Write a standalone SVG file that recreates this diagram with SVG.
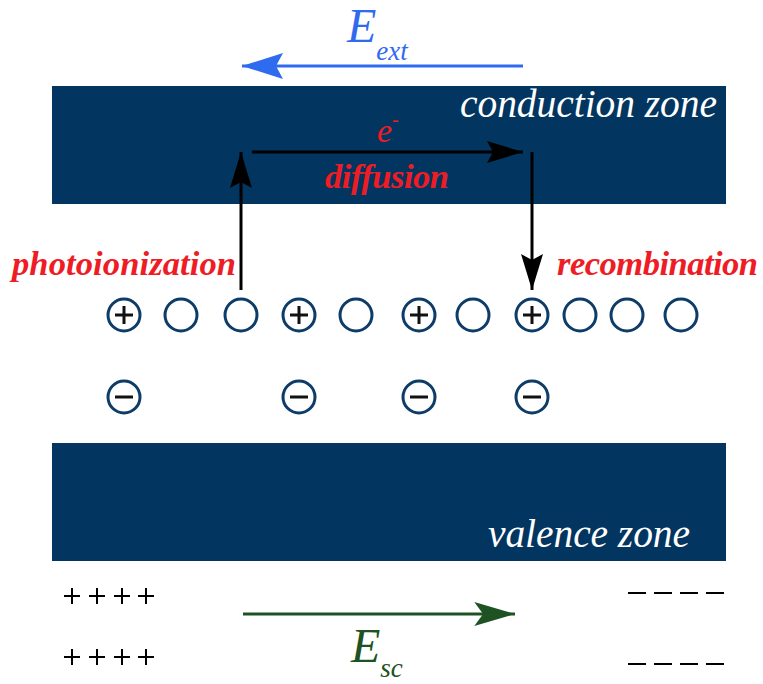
<svg xmlns="http://www.w3.org/2000/svg" width="763" height="684" viewBox="0 0 763 684">
<style>
.band{fill:#02355f}
.zt{font-family:"Liberation Serif",serif;font-style:italic;fill:#fff;font-size:39.5px}
.rt{font-family:"Liberation Serif",serif;font-style:italic;font-weight:bold;fill:#ee1c25;font-size:34.5px}
.c{fill:none;stroke:#0e3c68;stroke-width:3}
.s{stroke:#111;stroke-width:3;fill:none}
.k{stroke:#000;stroke-width:3;fill:none}
.pm{stroke:#000;stroke-width:2}
</style>
<defs>
<marker id="ab" markerUnits="userSpaceOnUse" markerWidth="40" markerHeight="30" refX="36" refY="12" orient="auto" viewBox="0 0 40 24">
<path d="M36,12 L0,1 L6,12 L0,23 Z" fill="#000"/>
</marker>
<marker id="abl" markerUnits="userSpaceOnUse" markerWidth="44" markerHeight="30" refX="41" refY="13" orient="auto" viewBox="0 0 44 26">
<path d="M41,13 L0,0 L7,13 L0,26 Z" fill="#2f6bef"/>
</marker>
<marker id="agr" markerUnits="userSpaceOnUse" markerWidth="44" markerHeight="30" refX="37" refY="11" orient="auto" viewBox="0 0 40 22">
<path d="M37,11 L0,0 L8,11 L0,22 Z" fill="#1e5222"/>
</marker>
</defs>
<g id="conduction-zone">
<rect class="band" x="52" y="86" width="674" height="118"/>
<text class="zt" x="460" y="117" textLength="257">conduction zone</text>
</g>
<g id="valence-zone">
<rect class="band" x="52" y="443" width="674" height="118"/>
<text class="zt" x="488" y="547" textLength="202">valence zone</text>
</g>
<g id="e-ext">
<text x="347" y="42" font-family="Liberation Serif,serif" font-style="italic" font-size="48" fill="#2f6bef">E<tspan font-size="27" dy="18">ext</tspan></text>
</g>
<g id="e-sc">
<text x="351" y="662" font-family="Liberation Serif,serif" font-style="italic" font-size="48" fill="#1e5222">E<tspan font-size="27" dy="15">sc</tspan></text>
</g>
<g id="electron">
<text x="377" y="142" font-family="Liberation Serif,serif" font-style="italic" font-size="34" fill="#ee1c25">e<tspan font-size="20" dy="-16">-</tspan></text>
</g>
<g id="labels">
<text class="rt" x="325" y="188" textLength="124">diffusion</text>
<text class="rt" x="12" y="275" textLength="224">photoionization</text>
<text class="rt" x="557" y="275" textLength="201">recombination</text>
</g>
<g id="atoms">
<circle class="c" cx="124" cy="315" r="16"/>
<circle class="c" cx="181" cy="315" r="16"/>
<circle class="c" cx="241" cy="315" r="16"/>
<circle class="c" cx="299" cy="315" r="16"/>
<circle class="c" cx="356" cy="315" r="16"/>
<circle class="c" cx="419" cy="315" r="16"/>
<circle class="c" cx="473" cy="315" r="16"/>
<circle class="c" cx="532" cy="315" r="16"/>
<circle class="c" cx="580" cy="315" r="16"/>
<circle class="c" cx="627" cy="315" r="16"/>
<circle class="c" cx="681" cy="315" r="16"/>
<path class="s" d="M115,315h18M124,306v18M290,315h18M299,306v18M410,315h18M419,306v18M523,315h18M532,306v18"/>
<circle class="c" cx="124" cy="397" r="16"/>
<circle class="c" cx="299" cy="397" r="16"/>
<circle class="c" cx="419" cy="397" r="16"/>
<circle class="c" cx="532" cy="397" r="16"/>
<path class="s" d="M115,397h18M290,397h18M410,397h18M523,397h18"/>
</g>
<g id="charges">
<path class="pm" d="M64,596h16M72,588v16M89,596h16M97,588v16M114,596h16M122,588v16M138,596h16M146,588v16"/>
<path class="pm" d="M64,657h16M72,649v16M89,657h16M97,649v16M114,657h16M122,649v16M138,657h16M146,649v16"/>
<path class="pm" stroke-width="2.5" d="M628,593h18M654,593h18M680,593h18M706,593h18M628,664h18M654,664h18M680,664h18M706,664h18"/>
</g>
<g id="connectors">
<line class="k" x1="241" y1="290" x2="241" y2="152" marker-end="url(#ab)"/>
<line class="k" x1="252" y1="152" x2="523" y2="152" marker-end="url(#ab)"/>
<line class="k" x1="532" y1="152" x2="532" y2="290" marker-end="url(#ab)"/>
<line stroke="#2f6bef" stroke-width="3" x1="523" y1="66" x2="242" y2="66" marker-end="url(#abl)"/>
<line stroke="#1e5222" stroke-width="3" x1="243" y1="614" x2="515" y2="614" marker-end="url(#agr)"/>
</g>
</svg>
